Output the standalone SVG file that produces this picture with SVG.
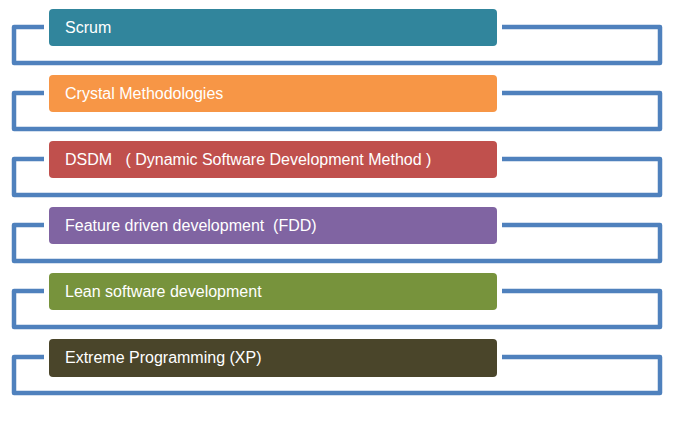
<svg xmlns="http://www.w3.org/2000/svg" width="674" height="425" viewBox="0 0 674 425">
  <style>
    .frame { fill: none; stroke: #4f81bd; stroke-width: 4.5; stroke-linejoin: round; }
    .bar { stroke: none; }
    .label { font-family: "Liberation Sans", Arial, sans-serif; font-size: 16px; fill: #ffffff; }
  </style>
  <rect width="674" height="425" fill="#ffffff"/>

  <!-- bracket frames behind each bar -->
  <g id="connectors">
    <path class="frame" d="M44,27 H14 V63 H660 V27 H502"/>
    <path class="frame" d="M44,93 H14 V129 H660 V93 H502"/>
    <path class="frame" d="M44,159 H14 V195 H660 V159 H502"/>
    <path class="frame" d="M44,225 H14 V261 H660 V225 H502"/>
    <path class="frame" d="M44,291 H14 V327 H660 V291 H502"/>
    <path class="frame" d="M44,357 H14 V393 H660 V357 H502"/>
  </g>

  <g id="scrum">
    <rect class="bar" x="49" y="9" width="448" height="37" rx="4" fill="#31859c"/>
    <text class="label" x="65" y="33">Scrum</text>
  </g>
  <g id="crystal">
    <rect class="bar" x="49" y="75" width="448" height="37" rx="4" fill="#f79646"/>
    <text class="label" x="65" y="99">Crystal Methodologies</text>
  </g>
  <g id="dsdm">
    <rect class="bar" x="49" y="141" width="448" height="37" rx="4" fill="#c0504d"/>
    <text class="label" x="65" y="165" xml:space="preserve">DSDM   ( Dynamic Software Development Method )</text>
  </g>
  <g id="fdd">
    <rect class="bar" x="49" y="207" width="448" height="37" rx="4" fill="#8064a2"/>
    <text class="label" x="65" y="231" xml:space="preserve">Feature driven development  (FDD)</text>
  </g>
  <g id="lean">
    <rect class="bar" x="49" y="273" width="448" height="37" rx="4" fill="#77933c"/>
    <text class="label" x="65" y="297">Lean software development</text>
  </g>
  <g id="xp">
    <rect class="bar" x="49" y="339" width="448" height="38" rx="4" fill="#4a452a"/>
    <text class="label" x="65" y="363">Extreme Programming (XP)</text>
  </g>
</svg>
